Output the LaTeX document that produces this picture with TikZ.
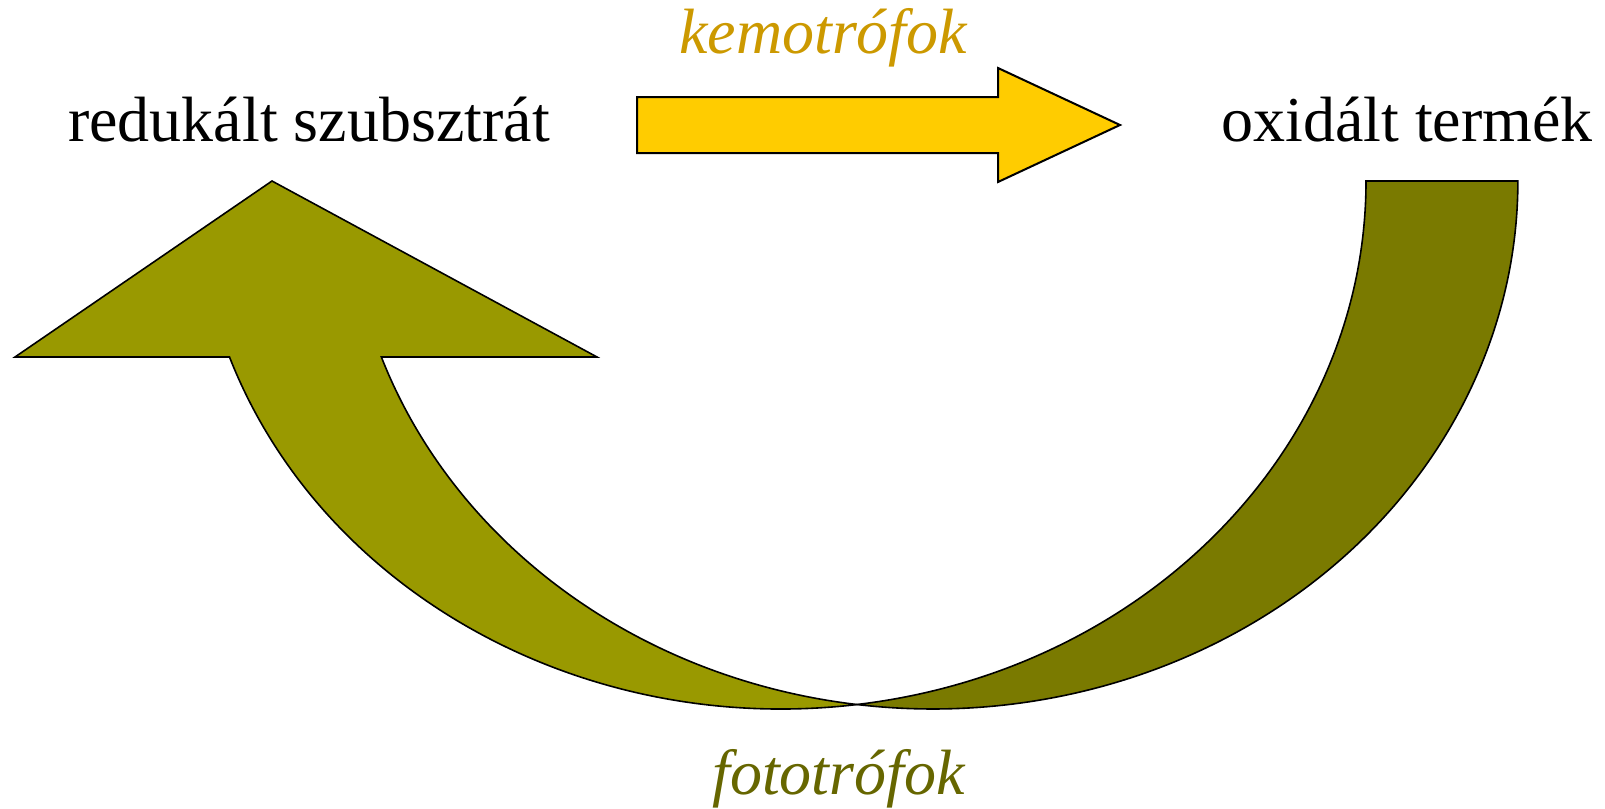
\documentclass[tikz,border=0pt]{standalone}
\usepackage{fontspec}
\setmainfont{Liberation Serif}
\definecolor{chemoGold}{HTML}{CC9900}
\definecolor{arrowYellow}{HTML}{FFCC00}
\definecolor{photoText}{HTML}{666600}
\definecolor{shaftOlive}{HTML}{999900}
\definecolor{tailOlive}{HTML}{7A7A00}
\begin{document}
\begin{tikzpicture}[x=1pt,y=-1pt,
  label/.style={inner sep=0pt,anchor=base west,font=\fontsize{64}{64}\selectfont},
  italiclabel/.style={label,font=\fontsize{64}{64}\selectfont\itshape},
  blockarrow/.style={draw=black,line width=1.6pt,line join=miter},
  loop/.style={x radius=585,y radius=528}]
\useasboundingbox (0,0) rectangle (1605,808);

% labels
\node[label] (substrate) at (68,141) {redukált szubsztrát};
\node[label] (product) at (1221,141) {oxidált termék};
\node[italiclabel,text=chemoGold] (chemo) at (679,53) {kemotrófok};
\node[italiclabel,text=photoText] (photo) at (712,794) {fototrófok};

% straight block arrow (chemotrophs)
\filldraw[blockarrow,fill=arrowYellow,line width=2pt]
  (637,97) -- (998,97) -- (998,68) -- (1120,125) -- (998,182)
  -- (998,153) -- (637,153) -- cycle;

% curved block arrow (phototrophs): tail on the right, head on the left
\coordinate (tailIn) at (1366,181);
\coordinate (shaftOut) at (229.5,357);
\filldraw[blockarrow,fill=tailOlive]
  (tailIn) arc[start angle=0,end angle=82.54,loop]
  arc[start angle=97.46,end angle=0,loop] -- cycle;
\filldraw[blockarrow,fill=shaftOlive]
  (shaftOut) arc[start angle=160.53,end angle=82.54,loop]
  arc[start angle=97.46,end angle=160.53,loop]
  -- (597,357) -- (272,181) -- (15,357) -- cycle;
\end{tikzpicture}
\end{document}
